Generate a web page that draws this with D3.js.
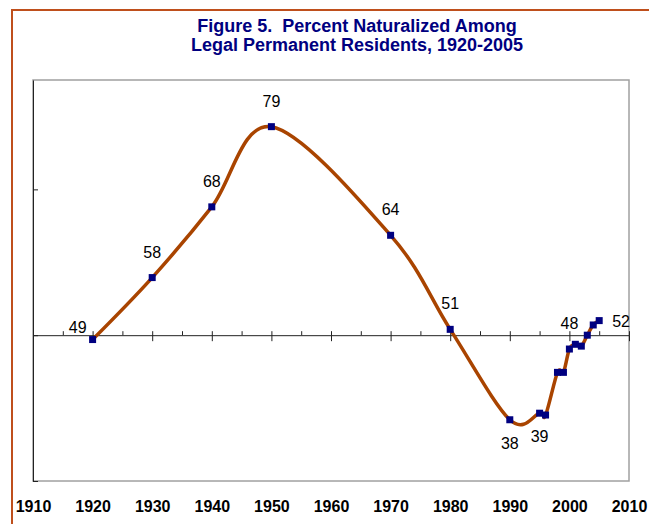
<!DOCTYPE html>
<html>
<head>
<meta charset="utf-8">
<script src="https://cdn.jsdelivr.net/npm/d3@7"></script>
<style>
  body { margin: 0; background: #fff; }
  svg { display: block; font-family: Arial, "Liberation Sans", sans-serif; }
</style>
</head>
<body>
<div class="canvas"></div>
<script>
// data
const years  = [1920, 1930, 1940, 1950, 1970, 1980, 1990, 1995, 1996, 1998, 1999, 2000, 2001, 2002, 2003, 2004, 2005];
const values = [49.4, 57.9, 67.6, 78.6, 63.7, 50.8, 38.4, 39.3, 39.05, 44.9, 44.9, 48.1, 48.75, 48.5, 50.0, 51.4, 52.0];

// which points carry a label, and where it sits
const labelYears = [1920, 1930, 1940, 1950, 1970, 1980, 1990, 1995, 2000, 2005];
const labelText  = ['49', '58', '68', '79', '64', '51', '38', '39', '48', '52'];
const labelPos   = ['left', 'above', 'above', 'above', 'above', 'above', 'below', 'below', 'above', 'right'];

const xTickYears = [1910, 1920, 1930, 1940, 1950, 1960, 1970, 1980, 1990, 2000, 2010];
const xMinorYears = d3.range(1910, 2011, 5);
const yTicks = [30, 50, 70];

const titleLines = ['Figure 5.  Percent Naturalized Among', 'Legal Permanent Residents, 1920-2005'];

const data = years.map((d, i) => ({year: d, value: values[i]}));

// svg
const svg = d3.select('.canvas')
    .append('svg')
        .attr('width', 649)
        .attr('height', 524);

// outer frame (only the top and left edges show)
svg.append('rect')
    .attr('x', 12)
    .attr('y', 10)
    .attr('width', 700)
    .attr('height', 600)
    .attr('fill', 'none')
    .attr('stroke', '#bf4f1c')
    .attr('stroke-width', 2);

// title
svg.append('text')
    .attr('x', 357)
    .attr('text-anchor', 'middle')
    .attr('fill', '#000080')
    .attr('font-weight', 'bold')
    .attr('font-size', '18px')
    .style('white-space', 'pre')
    .selectAll('tspan')
    .data(titleLines)
    .enter()
    .append('tspan')
        .attr('x', 357)
        .attr('y', (d, i) => 32 + i * 19)
        .text(d => d);

// plot area
const plot = {left: 33, right: 629, top: 80, bottom: 481};

const x = d3.scaleLinear()
    .domain([1910, 2010])
    .range([plot.left, plot.right]);

const y = d3.scaleLinear()
    .domain([30, 85])
    .range([plot.bottom, plot.top]);

svg.append('rect')
    .attr('x', plot.left)
    .attr('y', plot.top)
    .attr('width', plot.right - plot.left)
    .attr('height', plot.bottom - plot.top)
    .attr('fill', 'none')
    .attr('stroke', '#a0a0a0')
    .attr('stroke-width', 1.5);

// y axis (no labels, ticks inside)
const yAxisGroup = svg.append('g')
    .attr('transform', `translate(${plot.left}, 0)`)
    .call(d3.axisRight(y).tickValues(yTicks).tickSize(5).tickSizeOuter(0).tickFormat(''));

// x axis crossing at 50
const xAxisGroup = svg.append('g')
    .attr('transform', `translate(0, ${y(50)})`);
xAxisGroup.append('g')
    .call(d3.axisTop(x).tickValues(xMinorYears).tickSize(4).tickSizeOuter(0).tickFormat(''));
xAxisGroup.append('g')
    .call(d3.axisBottom(x).tickValues(xTickYears).tickSize(6).tickSizeOuter(0).tickFormat(''))
    .select('.domain').remove();

svg.selectAll('.domain, .tick line')
    .attr('stroke', '#222')
    .attr('stroke-width', 1);

// year labels along the bottom
const bottomAxis = svg.append('g')
    .attr('transform', `translate(0, ${plot.bottom})`)
    .call(d3.axisBottom(x).tickValues(xTickYears).tickSize(0).tickFormat(d3.format('d')));
bottomAxis.select('.domain').remove();
bottomAxis.selectAll('text')
    .attr('y', 31)
    .attr('dy', 0)
    .attr('fill', '#000')
    .attr('font-size', '16px')
    .attr('font-weight', 'bold')
    .attr('font-family', 'Arial, "Liberation Sans", sans-serif');

// smoothed line
const line = d3.line()
    .x(d => x(d.year))
    .y(d => y(d.value))
    .curve(d3.curveCardinal.tension(0));

svg.append('path')
    .datum(data)
    .attr('d', line)
    .attr('fill', 'none')
    .attr('stroke', '#a94400')
    .attr('stroke-width', 3.5)
    .attr('stroke-linejoin', 'round');

// markers
svg.selectAll('rect.marker')
    .data(data)
    .enter()
    .append('rect')
        .attr('class', 'marker')
        .attr('x', d => x(d.year) - 3.5)
        .attr('y', d => y(d.value) - 3.5)
        .attr('width', 7)
        .attr('height', 7)
        .attr('fill', '#000080');

// data labels
const labels = labelYears.map((yr, i) => {
    const v = values[years.indexOf(yr)];
    return {year: yr, value: v, text: labelText[i], pos: labelPos[i]};
});

svg.selectAll('text.label')
    .data(labels)
    .enter()
    .append('text')
        .attr('class', 'label')
        .attr('font-size', '16px')
        .attr('fill', '#000')
        .attr('text-anchor', d => d.pos == 'left' ? 'end' : d.pos == 'right' ? 'start' : 'middle')
        .attr('x', d => {
            if (d.pos == 'left') return x(d.year) - 6;
            if (d.pos == 'right') return x(d.year) + 13;
            return x(d.year);
        })
        .attr('y', d => {
            if (d.pos == 'above') return y(d.value) - 20;
            if (d.pos == 'below') return y(d.value) + 29;
            if (d.pos == 'left') return y(d.value) - 7;
            return y(d.value) + 6;
        })
        .text(d => d.text);
</script>
</body>
</html>
